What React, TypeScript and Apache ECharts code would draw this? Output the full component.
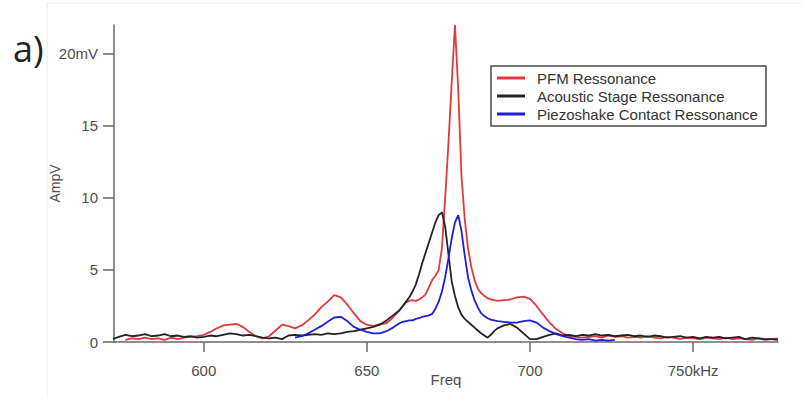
import React, { useEffect, useRef } from "react";
import * as echarts from "echarts";

// Frequency grid (kHz)
const freqKHz = [
  572, 574, 576, 578, 580, 582, 584, 586, 588, 590, 592, 594, 596, 598, 600,
  602, 604, 606, 608, 610, 612, 614, 616, 618, 620, 622, 624, 626, 628, 630,
  632, 634, 636, 638, 640, 642, 644, 646, 648, 650, 652, 654, 656, 658, 660,
  661, 662, 663, 664, 665, 666, 667, 668, 669, 670, 671, 672, 673, 674, 675,
  676, 677, 678, 679, 680, 681, 682, 683, 684, 685, 686, 687, 688, 689, 690,
  692, 694, 696, 698, 700, 702, 704, 706, 708, 710, 712, 714, 716, 718, 720,
  722, 724, 726, 728, 730, 732, 734, 736, 738, 740, 742, 744, 746, 748, 750,
  752, 754, 756, 758, 760, 762, 764, 766, 768, 770, 772, 774, 776,
];

// PFM Ressonance (mV)
const pfmAmp = [
  null, null, 0.15, 0.25, 0.2, 0.3, 0.2, 0.25, 0.15, 0.3, 0.2, 0.3, 0.35, 0.4, 0.5,
  0.7, 0.95, 1.15, 1.2, 1.25, 1.05, 0.7, 0.4, 0.25, 0.4, 0.8, 1.2, 1.1, 0.95, 1.15,
  1.5, 1.9, 2.4, 2.8, 3.25, 3.1, 2.6, 2.0, 1.45, 1.2, 1.1, 1.25, 1.3, 1.7, 2.2,
  2.5, 2.75, 2.85, 2.9, 2.85, 2.95, 3.1, 3.3, 3.8, 4.3, 4.6, 5.0, 6.5, 10.0, 13.8,
  18.0, 22.0, 17.5, 11.5, 8.5, 6.5, 5.2, 4.3, 3.7, 3.4, 3.2, 3.05, 2.95, 2.9, 2.85,
  2.9, 2.95, 3.1, 3.15, 3.0, 2.5, 1.9, 1.35, 0.9, 0.6, 0.4, 0.35, 0.3, 0.35, 0.4,
  0.3, 0.45, 0.35, 0.4, 0.3, 0.35, 0.3, 0.4, 0.3, 0.25, 0.35, 0.3, 0.2, 0.3, 0.25,
  0.2, 0.3, 0.25, 0.2, 0.3, 0.2, 0.25, 0.2, 0.15, 0.25, 0.15, 0.2, 0.25,
];

// Acoustic Stage Ressonance (mV)
const acousticAmp = [
  0.2, 0.35, 0.5, 0.4, 0.45, 0.55, 0.4, 0.45, 0.55, 0.4, 0.45, 0.35, 0.4, 0.3, 0.35,
  0.45, 0.4, 0.5, 0.6, 0.55, 0.45, 0.5, 0.4, 0.3, 0.25, 0.3, 0.2, 0.45, 0.5, 0.45,
  0.5, 0.55, 0.5, 0.6, 0.55, 0.6, 0.7, 0.75, 0.85, 0.95, 1.05, 1.2, 1.5, 1.85, 2.2,
  2.5, 2.8, 3.1, 3.5, 4.0, 4.7, 5.5, 6.2, 6.9, 7.6, 8.3, 8.8, 9.0, 8.0, 6.1,
  4.2, 3.2, 2.4, 1.9, 1.6, 1.4, 1.2, 1.0, 0.8, 0.6, 0.45, 0.3, 0.5, 0.75, 0.95,
  1.15, 1.25, 1.0, 0.6, 0.2, 0.2, 0.35, 0.5, 0.6, 0.45, 0.5, 0.4, 0.5, 0.45, 0.55,
  0.45, 0.5, 0.4, 0.45, 0.5, 0.4, 0.45, 0.35, 0.45, 0.4, 0.3, 0.35, 0.4, 0.3, 0.35,
  0.25, 0.35, 0.3, 0.35, 0.25, 0.3, 0.35, 0.2, 0.3, 0.25, 0.2, 0.2, 0.15,
];

// Piezoshake Contact Ressonance (mV)
const piezoAmp = [
  null, null, null, null, null, null, null, null, null, null, null, null, null, null, null,
  null, null, null, null, null, null, null, null, null, null, null, null, null, 0.3, 0.4,
  0.6, 0.85, 1.1, 1.4, 1.7, 1.75, 1.45, 1.05, 0.85, 0.7, 0.6, 0.6, 0.75, 1.0, 1.3,
  1.4, 1.45, 1.5, 1.5, 1.6, 1.65, 1.75, 1.8, 1.85, 1.95, 2.3, 2.8, 3.5, 4.5, 5.8,
  7.2, 8.3, 8.8, 7.7, 6.0, 4.5, 3.6, 2.9, 2.4, 2.0, 1.8, 1.65, 1.55, 1.5, 1.45,
  1.4, 1.35, 1.35, 1.45, 1.5, 1.35, 1.0, 0.75, 0.55, 0.4, 0.3, 0.2, 0.15, 0.2, 0.1,
  0.15, 0.1, 0.15, null, null, null, null, null, null, null, null, null, null, null, null,
  null, null, null, null, null, null, null, null, null, null, null, null, null,
];

const xTicks = [600, 650, 700, 750];
const yTicks = [0, 5, 10, 15, 20];
const seriesNames = [
  "PFM Ressonance",
  "Acoustic Stage Ressonance",
  "Piezoshake Contact Ressonance",
];
const seriesColors = ["#e2393c", "#222222", "#1f1fd6"];

function toPairs(vals: (number | null)[]) {
  return freqKHz.map((f, i) => [f, vals[i] == null ? "-" : vals[i]]);
}

export default function App() {
  const ref = useRef<HTMLDivElement>(null);
  useEffect(() => {
    if (!ref.current) return;
    const chart = echarts.init(ref.current, null, { renderer: "svg" });
    const axisColor = "#6a6a6a";
    const labelColor = "#4d4d4d";
    chart.setOption({
      animation: false,
      backgroundColor: "#ffffff",
      textStyle: { fontFamily: "'Liberation Sans', Arial, sans-serif" },
      grid: { left: 114, right: 25, top: 25, bottom: 56, containLabel: false },
      xAxis: {
        type: "value",
        min: 572.5,
        max: 776,
        name: "Freq",
        nameLocation: "middle",
        nameGap: 30,
        nameMoveOverlap: false,
        nameTextStyle: { fontSize: 15, color: labelColor },
        axisLine: { show: true, onZero: false, lineStyle: { color: axisColor, width: 1.5 } },
        axisTick: {
          show: true,
          inside: false,
          length: 10,
          customValues: xTicks,
          lineStyle: { color: axisColor, width: 1.5 },
        },
        axisLabel: {
          customValues: xTicks,
          margin: 21,
          fontSize: 15,
          color: labelColor,
          formatter: (v: number) => (v === 750 ? "750kHz" : String(v)),
        },
        splitLine: { show: false },
      },
      yAxis: {
        type: "value",
        min: 0,
        max: 22,
        name: "AmpV",
        nameLocation: "middle",
        nameGap: 52,
        nameMoveOverlap: false,
        nameTextStyle: { fontSize: 14, color: labelColor },
        axisLine: { show: true, onZero: false, lineStyle: { color: axisColor, width: 1.5 } },
        axisTick: {
          show: true,
          inside: false,
          length: 11,
          customValues: yTicks,
          lineStyle: { color: axisColor, width: 1.5 },
        },
        axisLabel: {
          customValues: yTicks,
          margin: 16,
          fontSize: 15,
          color: labelColor,
          formatter: (v: number) => (v === 20 ? "20mV" : String(v)),
        },
        splitLine: { show: false },
      },
      legend: {
        orient: "vertical",
        left: 491,
        top: 66,
        data: seriesNames,
        icon: "rect",
        itemWidth: 28,
        itemHeight: 3,
        itemGap: 2,
        padding: [4, 8, 4, 6],
        borderColor: "#4a4a4a",
        borderWidth: 1.5,
        backgroundColor: "#ffffff",
        textStyle: { fontSize: 15, color: "#333333", lineHeight: 16, padding: [0, 0, 0, 7] },
      },
      graphic: [
        {
          type: "rect",
          silent: true,
          z: -10,
          shape: { x: 47, y: 3, width: 800, height: 420 },
          style: { fill: "none", stroke: "#ececec", lineWidth: 1 },
        },
        {
          type: "text",
          x: 13,
          y: 48,
          style: {
            text: "a)",
            font: "36px 'Open Sans', sans-serif",
            fill: "#222222",
            verticalAlign: "middle",
            align: "left",
          },
        },
      ],
      series: seriesNames.map((name, k) => ({
        name,
        type: "line",
        data: toPairs([pfmAmp, acousticAmp, piezoAmp][k]),
        showSymbol: false,
        symbol: "none",
        connectNulls: false,
        color: seriesColors[k],
        lineStyle: { color: seriesColors[k], width: 1.8 },
      })),
    });
    return () => chart.dispose();
  }, []);
  return (
    <div
      ref={ref}
      style={{ position: "fixed", left: 0, top: 0, width: 803, height: 398 }}
    />
  );
}
